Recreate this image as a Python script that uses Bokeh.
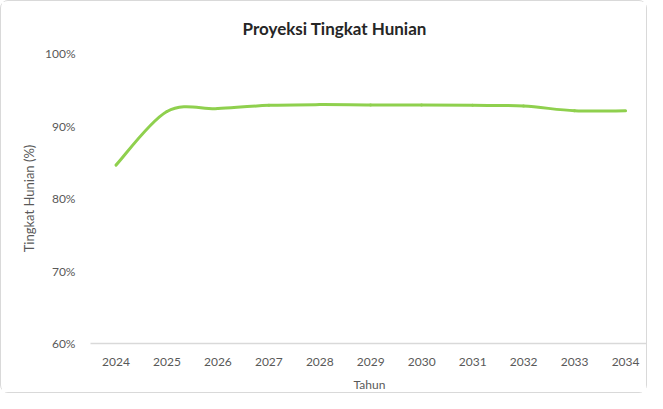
import numpy as np
from bokeh.plotting import figure
from bokeh.models import FixedTicker, PrintfTickFormatter, Range1d
from bokeh.embed import file_html
from bokeh.resources import INLINE

years = [2024, 2025, 2026, 2027, 2028, 2029, 2030, 2031, 2032, 2033, 2034]
occupancy = [84.6, 92.0, 92.4, 92.85, 92.95, 92.9, 92.9, 92.85, 92.75, 92.1, 92.1]
y_ticks = [60, 70, 80, 90, 100]

FONT = "Lato"
GREY = "#595959"

p = figure(width=647, height=393, output_backend="svg", toolbar_location=None,
           x_range=Range1d(2023.5, 2034.45), y_range=Range1d(60, 100),
           min_border_left=89, min_border_right=0, min_border_top=52, min_border_bottom=51,
           title="Proyeksi Tingkat Hunian")
p.styles = {"border": "1px solid #d9d9d9", "border-radius": "8px"}
p.outline_line_color = None
p.background_fill_color = "white"
p.border_fill_color = "white"

p.title.align = "left"
p.title.offset = 152
p.title.text_font = FONT
p.title.text_font_size = "17px"
p.title.text_font_style = "bold"
p.title.text_color = "#262626"
p.title.standoff = 29

# smooth line (Catmull-Rom style bezier, like a spreadsheet smoothed line)
x = np.array(years, dtype=float)
y = np.array(occupancy, dtype=float)
xp = np.concatenate([[x[0]], x, [x[-1]]])
yp = np.concatenate([[y[0]], y, [y[-1]]])
x0, y0 = x[:-1], y[:-1]
x1, y1 = x[1:], y[1:]
cx0 = x0 + (xp[2:-1] - xp[:-3]) / 6
cy0 = y0 + (yp[2:-1] - yp[:-3]) / 6
cx1 = x1 - (xp[3:] - xp[1:-2]) / 6
cy1 = y1 - (yp[3:] - yp[1:-2]) / 6
p.bezier(x0=x0, y0=y0, x1=x1, y1=y1, cx0=cx0, cy0=cy0, cx1=cx1, cy1=cy1,
         line_color="#8fd04e", line_width=3, line_cap="round")

p.xgrid.grid_line_color = None
p.ygrid.grid_line_color = None

xa = p.xaxis[0]
xa.ticker = FixedTicker(ticks=years)
xa.axis_line_color = "#d9d9d9"
xa.axis_line_width = 1.5
xa.major_tick_line_color = None
xa.minor_tick_line_color = None
xa.major_label_text_font = FONT
xa.major_label_text_font_size = "12px"
xa.major_label_text_color = GREY
xa.major_label_standoff = 8
xa.axis_label = "Tahun"
xa.axis_label_text_font = FONT
xa.axis_label_text_font_size = "12px"
xa.axis_label_text_font_style = "normal"
xa.axis_label_text_color = GREY
xa.axis_label_standoff = 8

ya = p.yaxis[0]
ya.ticker = FixedTicker(ticks=y_ticks)
ya.formatter = PrintfTickFormatter(format="%d%%")
ya.axis_line_color = None
ya.major_tick_line_color = None
ya.minor_tick_line_color = None
ya.major_label_text_font = FONT
ya.major_label_text_font_size = "12px"
ya.major_label_text_color = GREY
ya.major_label_standoff = 9
ya.axis_label = "Tingkat Hunian (%)"
ya.axis_label_text_font = FONT
ya.axis_label_text_font_size = "13px"
ya.axis_label_text_font_style = "normal"
ya.axis_label_text_color = GREY
ya.axis_label_standoff = 5

open("out.html", "w").write(file_html(p, INLINE))
